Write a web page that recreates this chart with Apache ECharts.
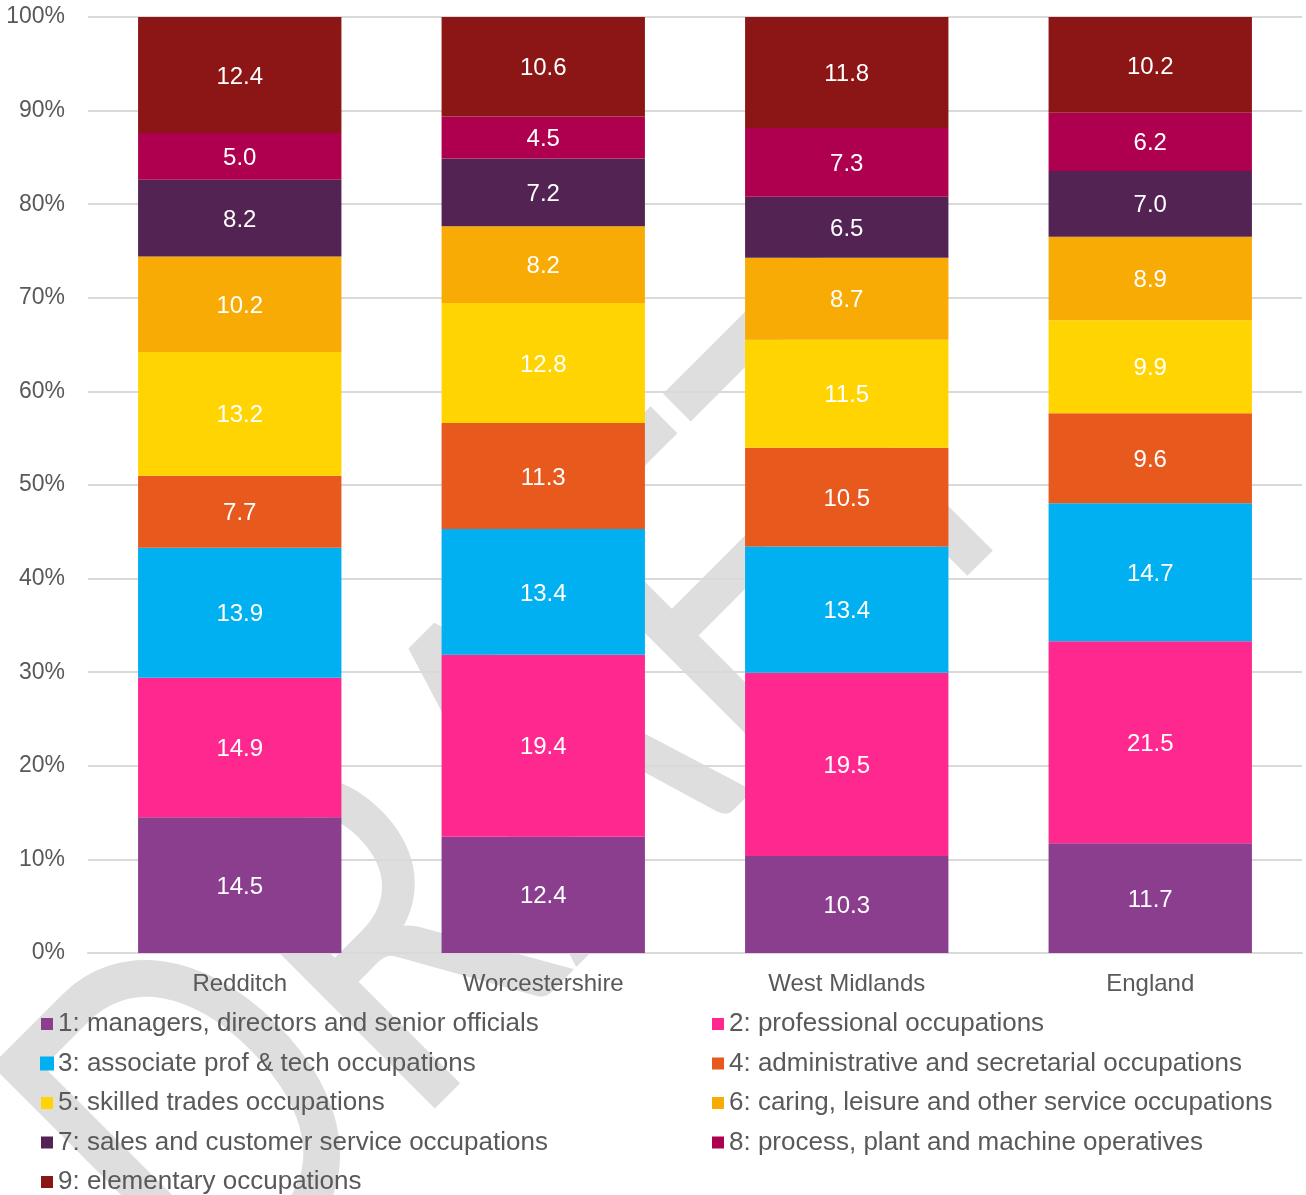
<!DOCTYPE html>
<html>
<head>
<meta charset="utf-8">
<script src="https://cdn.jsdelivr.net/npm/echarts@6/dist/echarts.min.js"></script>
<style>
html,body{margin:0;padding:0;background:#fff;}
#chart{width:1306px;height:1195px;}
</style>
</head>
<body>
<div id="chart"></div>
<script>
const categories = ['Redditch', 'Worcestershire', 'West Midlands', 'England'];
const seriesNames = [
  '1: managers, directors and senior officials',
  '2: professional occupations',
  '3: associate prof & tech occupations',
  '4: administrative and secretarial occupations',
  '5: skilled trades occupations',
  '6: caring, leisure and other service occupations',
  '7: sales and customer service occupations',
  '8: process, plant and machine operatives',
  '9: elementary occupations'
];
const managers      = [14.5, 12.4, 10.3, 11.7];
const professional  = [14.9, 19.4, 19.5, 21.5];
const associate     = [13.9, 13.4, 13.4, 14.7];
const administrative= [7.7, 11.3, 10.5, 9.6];
const skilledTrades = [13.2, 12.8, 11.5, 9.9];
const caring        = [10.2, 8.2, 8.7, 8.9];
const sales         = [8.2, 7.2, 6.5, 7.0];
const process       = [5.0, 4.5, 7.3, 6.2];
const elementary    = [12.4, 10.6, 11.8, 10.2];
const yTickValues   = [0, 10, 20, 30, 40, 50, 60, 70, 80, 90, 100];

const seriesValues = [managers, professional, associate, administrative, skilledTrades, caring, sales, process, elementary];
const colors = ['#8B3D8E', '#FF288F', '#00B0F0', '#E8591D', '#FFD400', '#F9AB05', '#532354', '#AF0050', '#8C1515'];

// 100% stacked: share of each category total
const totals = categories.map((c, i) => seriesValues.reduce((s, arr) => s + arr[i], 0));

const FONT = '"Liberation Sans", Arial, sans-serif';
const TXT = '#595959';

const series = seriesValues.map((arr, k) => ({
  name: seriesNames[k],
  type: 'bar',
  stack: 'total',
  barWidth: '67%',
  data: arr.map((v, i) => ({ value: v / totals[i] * 100, raw: v })),
  itemStyle: k === 2 ? { color: colors[k], borderColor: colors[k], borderWidth: 4 } : { color: colors[k] },
  label: {
    show: true,
    position: 'inside',
    offset: [0, 2],
    color: '#ffffff',
    fontFamily: FONT,
    fontSize: 24,
    formatter: p => p.data.raw.toFixed(1)
  },
  emphasis: { disabled: true }
}));

const legendCommon = {
  orient: 'vertical', padding: 0, top: 1011, height: 230,
  itemWidth: 12, itemHeight: 12, itemGap: 13.5, itemTextGap: 7,
  icon: 'rect',
  textStyle: { color: TXT, fontFamily: FONT, fontSize: 26, lineHeight: 26 },
  selectedMode: false
};

const chart = echarts.init(document.getElementById('chart'), null, { renderer: 'canvas' });
chart.setOption({
  backgroundColor: '#ffffff',
  animation: false,
  color: colors,
  graphic: [{
    type: 'text',
    x: 203, y: 1325,
    rotation: Math.PI / 4,
    scaleX: 0.775, scaleY: 1,
    z: -10,
    silent: true,
    style: {
      text: 'DRAFT',
      font: '480px Lato',
      fill: '#dedede',
      x: 0, y: -144,
      textAlign: 'left', textVerticalAlign: 'middle',
      align: 'left', verticalAlign: 'middle'
    }
  }],
  grid: { left: 88, right: 4, top: 17, bottom: 242, containLabel: false },
  xAxis: {
    type: 'category',
    data: categories,
    axisLine: { show: true, lineStyle: { color: '#d9d9d9', width: 2 } },
    axisTick: { show: false },
    axisLabel: { color: TXT, fontFamily: FONT, fontSize: 24, margin: 19 }
  },
  yAxis: {
    type: 'value',
    min: yTickValues[0],
    max: yTickValues[yTickValues.length - 1],
    interval: yTickValues[1] - yTickValues[0],
    axisLine: { show: false },
    axisTick: { show: false },
    splitLine: { lineStyle: { color: '#d9d9d9', width: 2 } },
    axisLabel: { color: TXT, fontFamily: FONT, fontSize: 23, margin: 23, formatter: '{value}%' }
  },
  legend: [
    Object.assign({}, legendCommon, {
      left: 40,
      data: [seriesNames[0], seriesNames[2], seriesNames[4], seriesNames[6], seriesNames[8]]
    }),
    Object.assign({}, legendCommon, {
      left: 712,
      data: [seriesNames[1], seriesNames[3], seriesNames[5], seriesNames[7]]
    })
  ],
  series: series
});
</script>
</body>
</html>
